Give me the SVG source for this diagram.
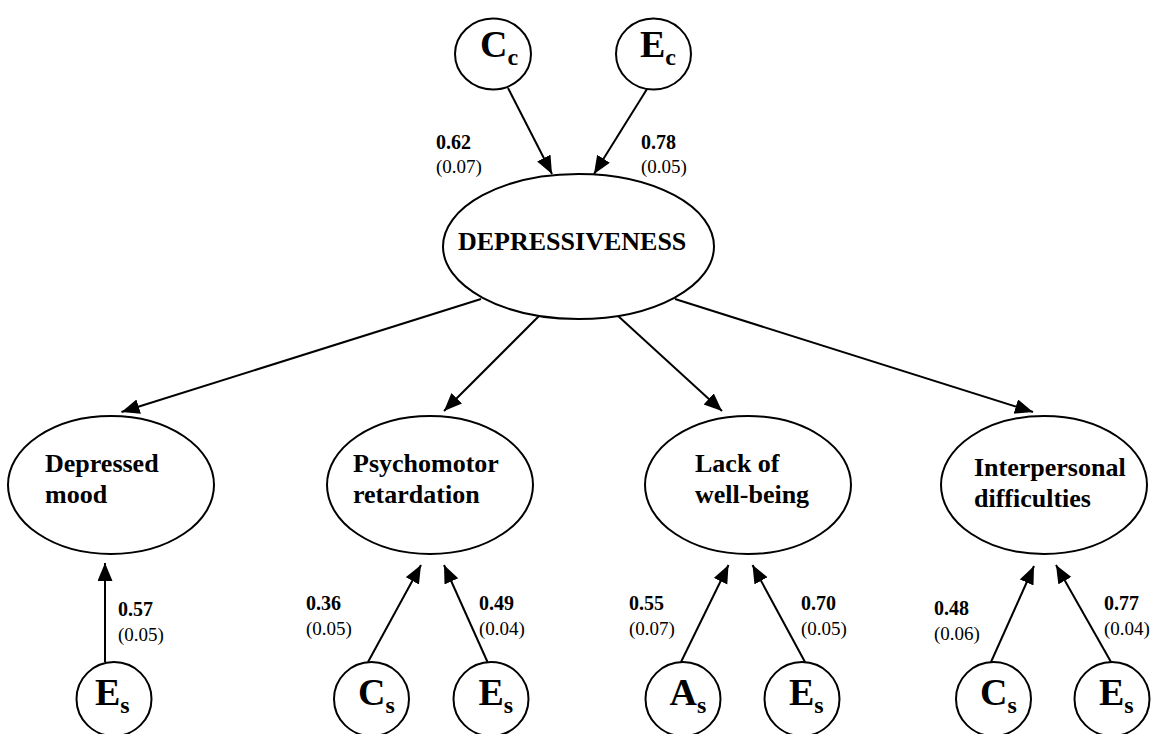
<svg xmlns="http://www.w3.org/2000/svg" width="1153" height="734" viewBox="0 0 1153 734">
<style>
.n{fill:#fff;stroke:#000;stroke-width:2}
.lbl{font-family:"Liberation Serif","Times New Roman",serif;font-weight:bold;font-size:26px;fill:#000}
.ltr{font-family:"Liberation Serif","Times New Roman",serif;font-weight:bold;font-size:38px;fill:#000}
.sub{font-size:24px}
.b{font-family:"Liberation Serif","Times New Roman",serif;font-weight:bold;font-size:20px;fill:#000}
.r{font-family:"Liberation Serif","Times New Roman",serif;font-size:19px;fill:#000}
.c line{stroke:#000;stroke-width:2;marker-end:url(#ah)}
</style>
<defs>
<marker id="ah" markerUnits="userSpaceOnUse" markerWidth="20" markerHeight="16" refX="18" refY="7.5" orient="auto">
<path d="M0,0 L18,7.5 L0,15 z" fill="#000"/>
</marker>
</defs>
<rect width="1153" height="734" fill="#fff"/>
<g class="c" id="connectors">
<line x1="508" y1="88" x2="552" y2="174"/>
<line x1="647" y1="89" x2="594" y2="174"/>
<line x1="481" y1="299" x2="121.5" y2="412"/>
<line x1="540" y1="315" x2="444" y2="411"/>
<line x1="617" y1="315" x2="722" y2="411"/>
<line x1="675" y1="299" x2="1033" y2="412"/>
<line x1="105" y1="662" x2="105" y2="563"/>
<line x1="368" y1="662" x2="421" y2="565"/>
<line x1="487.5" y1="662" x2="444" y2="565"/>
<line x1="681" y1="662" x2="728.5" y2="565"/>
<line x1="805" y1="662" x2="752.5" y2="565"/>
<line x1="991" y1="662" x2="1034" y2="566"/>
<line x1="1111" y1="662" x2="1056" y2="565"/>
</g>
<g id="labels">
<text class="b" x="436" y="149">0.62</text><text class="r" x="436" y="173">(0.07)</text>
<text class="b" x="641" y="149">0.78</text><text class="r" x="641" y="173">(0.05)</text>
<text class="b" x="118" y="616">0.57</text><text class="r" x="118" y="641">(0.05)</text>
<text class="b" x="306" y="610">0.36</text><text class="r" x="306" y="635">(0.05)</text>
<text class="b" x="479" y="610">0.49</text><text class="r" x="479" y="635">(0.04)</text>
<text class="b" x="629" y="610">0.55</text><text class="r" x="629" y="635">(0.07)</text>
<text class="b" x="801" y="610">0.70</text><text class="r" x="801" y="635">(0.05)</text>
<text class="b" x="934" y="615">0.48</text><text class="r" x="934" y="640">(0.06)</text>
<text class="b" x="1104" y="610">0.77</text><text class="r" x="1104" y="635">(0.04)</text>
</g>
<g id="Cc"><ellipse class="n" cx="493" cy="54" rx="38" ry="35.5"/><text class="ltr" x="480" y="57">C<tspan class="sub" dy="8">c</tspan></text></g>
<g id="Ec"><ellipse class="n" cx="653.5" cy="54" rx="37.5" ry="35.5"/><text class="ltr" x="640" y="57">E<tspan class="sub" dy="8">c</tspan></text></g>
<g id="depressiveness"><ellipse class="n" cx="578.5" cy="246.5" rx="135.5" ry="72.5"/><text class="lbl" x="458" y="250">DEPRESSIVENESS</text></g>
<g id="depressed-mood"><ellipse class="n" cx="111" cy="485" rx="103" ry="69"/><text class="lbl" x="45" y="472">Depressed</text><text class="lbl" x="45" y="503">mood</text></g>
<g id="psychomotor"><ellipse class="n" cx="430" cy="485" rx="103" ry="69"/><text class="lbl" x="353" y="472">Psychomotor</text><text class="lbl" x="353" y="503">retardation</text></g>
<g id="lack-wellbeing"><ellipse class="n" cx="748" cy="485" rx="103" ry="69"/><text class="lbl" x="695" y="472">Lack of</text><text class="lbl" x="695" y="503">well-being</text></g>
<g id="interpersonal"><ellipse class="n" cx="1044" cy="485" rx="103" ry="69"/><text class="lbl" x="974" y="476">Interpersonal</text><text class="lbl" x="974" y="507">difficulties</text></g>
<g id="Es1"><ellipse class="n" cx="114" cy="699" rx="37.5" ry="37"/><text class="ltr" x="95" y="705">E<tspan class="sub" dy="8">s</tspan></text></g>
<g id="Cs2"><ellipse class="n" cx="371.5" cy="699" rx="37.5" ry="37"/><text class="ltr" x="358" y="705">C<tspan class="sub" dy="8">s</tspan></text></g>
<g id="Es2"><ellipse class="n" cx="491" cy="699" rx="37.5" ry="37"/><text class="ltr" x="478.5" y="705">E<tspan class="sub" dy="8">s</tspan></text></g>
<g id="As3"><ellipse class="n" cx="683" cy="699" rx="37.5" ry="37"/><text class="ltr" x="669.5" y="705">A<tspan class="sub" dy="8">s</tspan></text></g>
<g id="Es3"><ellipse class="n" cx="802" cy="699" rx="37.5" ry="37"/><text class="ltr" x="789" y="705">E<tspan class="sub" dy="8">s</tspan></text></g>
<g id="Cs4"><ellipse class="n" cx="993.5" cy="699" rx="37.5" ry="37"/><text class="ltr" x="980" y="705">C<tspan class="sub" dy="8">s</tspan></text></g>
<g id="Es4"><ellipse class="n" cx="1112" cy="699" rx="37.5" ry="37"/><text class="ltr" x="1099" y="705">E<tspan class="sub" dy="8">s</tspan></text></g>
</svg>
